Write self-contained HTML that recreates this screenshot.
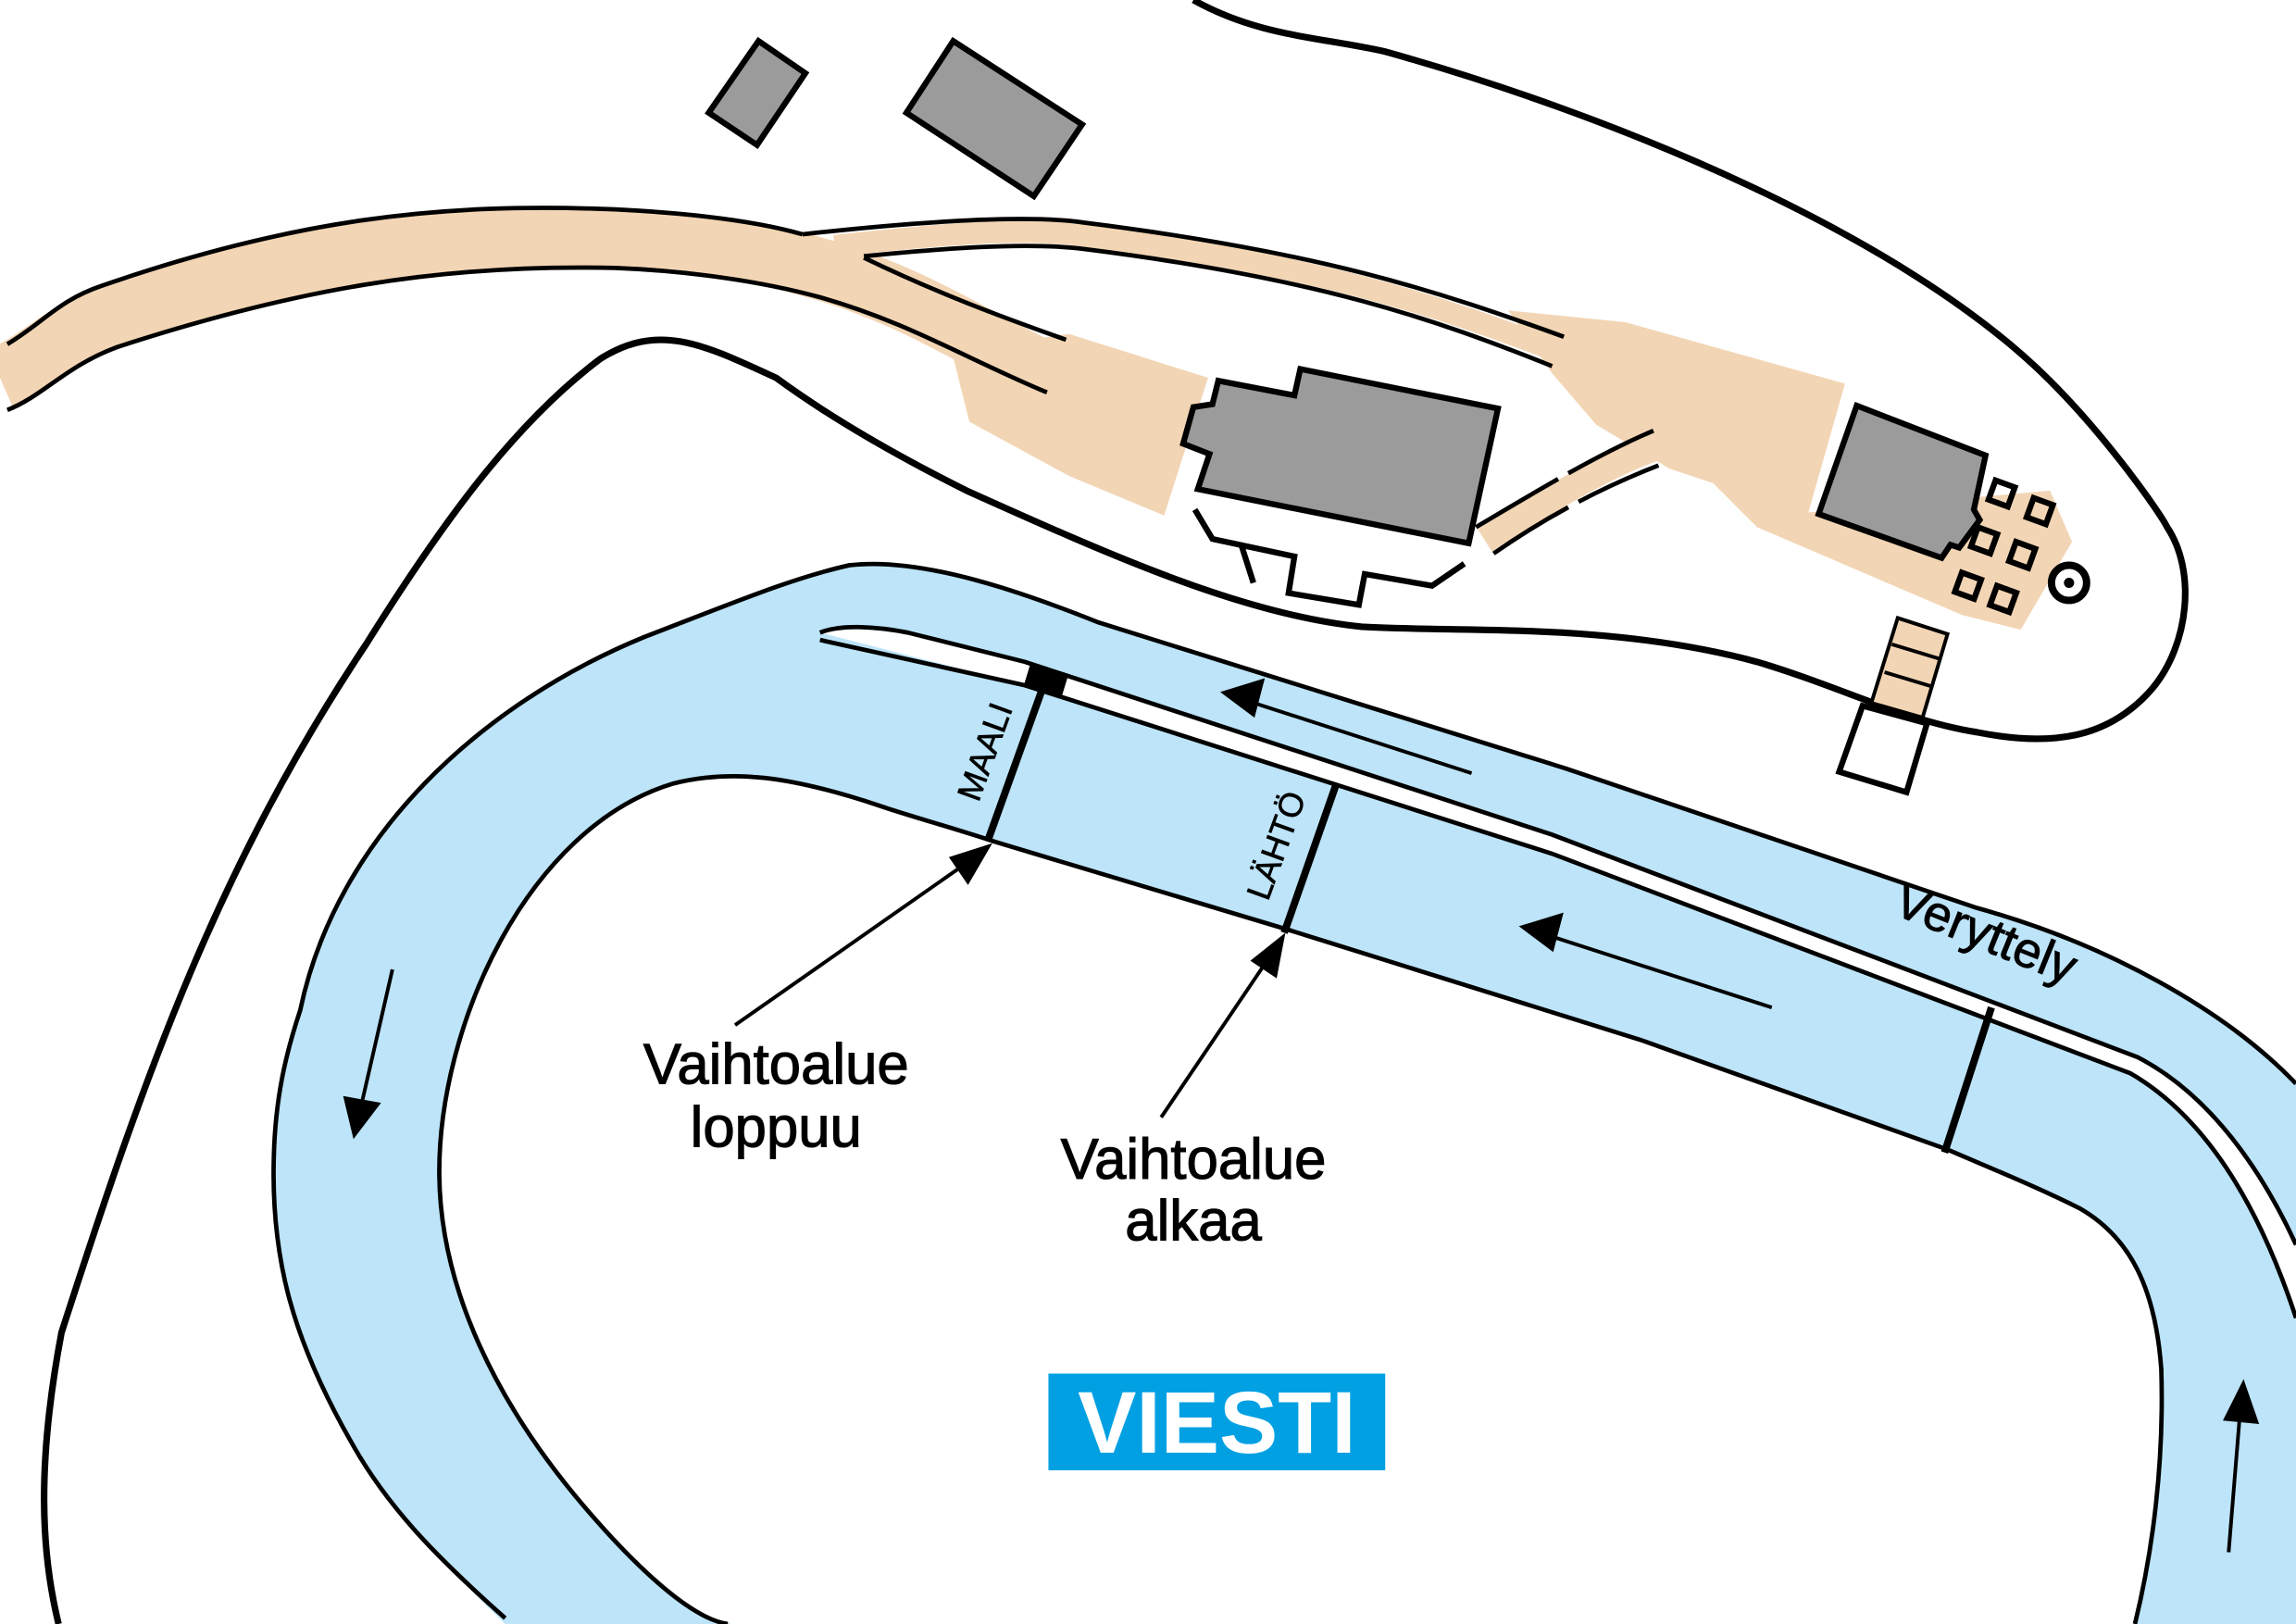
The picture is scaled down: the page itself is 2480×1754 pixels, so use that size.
<!DOCTYPE html>
<html><head><meta charset="utf-8"><style>
html,body{margin:0;padding:0;background:#fff}
svg{display:block}
text{font-family:"Liberation Sans",sans-serif}
</style></head><body>
<svg width="2480" height="1754" viewBox="0 0 1568 1109" preserveAspectRatio="none" xmlns="http://www.w3.org/2000/svg">
<rect width="1568" height="1109" fill="#fff"/>
<!-- roads -->
<path d="M0,258 C30,245 40,228 75,216 C200,174 300,160 420,163 C480,166 520,172 554,182 C620,200 660,228 715,255" fill="none" stroke="#f2d5b4" stroke-width="42"/>
<path d="M570,168 C640,160 700,155 740,161 C900,181 980,208 1064,240" fill="none" stroke="#f2d5b4" stroke-width="15"/>
<path d="M1014,369 C1060,340 1100,315 1136,304" fill="none" stroke="#f2d5b4" stroke-width="18"/>
<polygon points="650,240 730,228 825,258 795,352 730,325 662,288" fill="#f2d5b4"/>
<polygon points="1030,212 1110,220 1260,262 1235,350 1400,335 1415,370 1380,430 1340,420 1200,360 1170,330 1140,320 1090,290 1060,255" fill="#f2d5b4"/>
<g fill="none" stroke="#000" stroke-width="3">
<path d="M5,235 C30,220 40,205 70,195 C200,150 300,138 420,143 C480,146 520,152 548,160"/>
<path d="M5,280 C30,270 45,250 80,237 C200,198 300,180 420,183 C470,185 520,192 560,203 C620,220 660,245 715,268"/>
<path d="M548,160 C620,152 700,146 740,152 C900,172 980,198 1068,230"/>
<path d="M590,175 C640,170 700,165 740,170 C900,190 980,218 1060,250"/>
<path d="M590,176 C640,200 680,215 728,232"/>
<path d="M1008,360 C1050,335 1095,308 1132,293" stroke-dasharray="65,8"/>
<path d="M1020,378 C1060,350 1100,330 1140,315" stroke-dasharray="60,8"/>
</g>
<!-- outer boundary -->
<path d="M815,0 C860,25 900,25 945,35 C1100,78 1300,160 1400,260 C1440,300 1475,350 1480,360 C1500,390 1495,440 1470,470 C1440,505 1400,510 1350,500 C1300,492 1260,470 1200,452 C1100,425 1000,432 930,428 C850,420 760,380 660,335 C600,305 560,280 530,258 C480,235 450,220 410,245 C350,290 300,360 250,440 C150,590 100,730 42,910 C25,1000 28,1060 40,1109" fill="none" stroke="#000" stroke-width="4.5"/>
<!-- track -->
<path d="M345,1109 C300,1065 265,1030 240,985 C200,915 185,860 187,790 C188,750 195,720 205,690 C230,570 330,480 440,435 C500,412 540,395 580,386 C630,380 700,405 750,425 L1070,525 L1350,620 C1440,645 1520,690 1568,740 L1568,1109 L1458,1109 C1470,1060 1478,1000 1476,935 C1472,880 1455,845 1420,825 C1390,810 1360,798 1330,785 L1120,710 L880,635 L680,575 C650,565 620,557 600,550 C540,530 500,525 460,535 C360,565 300,700 300,800 C300,880 340,960 400,1030 C430,1065 470,1105 500,1109 Z" fill="#bde4f8"/>
<path d="M345,1105 C300,1065 265,1030 240,985 C200,915 185,860 187,790 C188,750 195,720 205,690 C230,570 330,480 440,435 C500,412 540,395 580,386 C630,380 700,405 750,425 L1070,525 L1350,620 C1440,645 1520,690 1568,740" fill="none" stroke="#000" stroke-width="3"/>
<path d="M1458,1109 C1470,1060 1478,1000 1476,935 C1472,880 1455,845 1420,825 C1390,810 1360,798 1330,785 L1120,710 L880,635 L680,575 C650,565 620,557 600,550 C540,530 500,525 460,535 C360,565 300,700 300,800 C300,880 340,960 400,1030 C430,1065 470,1105 497,1109" fill="none" stroke="#000" stroke-width="3"/>
<!-- warmup lane -->
<path d="M560,432 C575,426 600,428 620,432 L700,452 L1060,570 L1460,722 C1510,748 1545,800 1568,850 L1568,900 C1545,830 1510,765 1455,733 L1060,583 L700,468 Z" fill="#fff" stroke="none"/>
<path d="M560,432 C575,426 600,428 620,432 L700,452 L1060,570 L1460,722 C1510,748 1545,800 1568,850" fill="none" stroke="#000" stroke-width="3"/>
<path d="M560,437 L700,468 L1060,583 L1455,733 C1510,765 1545,830 1568,900" fill="none" stroke="#000" stroke-width="3"/>
<rect x="701" y="456" width="27" height="16" fill="#000" transform="rotate(17 714 464)"/>
<g stroke="#000" stroke-width="5">
<line x1="712" y1="470" x2="675" y2="573"/>
<line x1="912" y1="537" x2="877" y2="637"/>
<line x1="1360" y1="688" x2="1328" y2="787"/>
</g>
<!-- arrows -->
<g stroke="#000" stroke-width="2.5" fill="#000">
<line x1="1005" y1="528" x2="850" y2="478"/><polygon points="836,473 862,465 856,488"/>
<line x1="1210" y1="688" x2="1055" y2="638"/><polygon points="1040,633 1066,625 1060,648"/>
<line x1="268" y1="662" x2="246" y2="758"/><polygon points="242,775 236,750 258,754"/>
<line x1="1522" y1="1060" x2="1530" y2="962"/><polygon points="1532,945 1541,971 1520,969"/>
<line x1="502" y1="700" x2="662" y2="588"/><polygon points="675,578 661,602 650,586"/>
<line x1="793" y1="763" x2="866" y2="655"/><polygon points="876,640 871,666 856,656"/>
</g>
<!-- buildings -->
<g fill="#9b9b9b" stroke="#000" stroke-width="4">
<polygon points="518,28 550,50 517,99 484,77"/>
<polygon points="651,28 739,85 706,134 619,77"/>
<polygon points="832,260 884,270 888,252 1023,279 1003,371 818,334 826,310 808,303 815,278 828,276"/>
<polygon points="1268,277 1356,311 1348,348 1352,355 1338,374 1332,372 1326,381 1242,351"/>
</g>
<path d="M816,348 L828,368 L884,380 L880,405 L928,413 L932,392 L978,400 L1000,385" fill="none" stroke="#000" stroke-width="4"/>
<line x1="848" y1="373" x2="856" y2="398" stroke="#000" stroke-width="4"/>
<g fill="none" stroke="#000" stroke-width="4">
<rect x="1360" y="330" width="14" height="14" transform="rotate(20 1367 337)"/>
<rect x="1386" y="342" width="14" height="14" transform="rotate(20 1393 349)"/>
<rect x="1348" y="362" width="14" height="14" transform="rotate(20 1355 369)"/>
<rect x="1374" y="372" width="14" height="14" transform="rotate(20 1381 379)"/>
<rect x="1337" y="393" width="14" height="14" transform="rotate(20 1344 400)"/>
<rect x="1361" y="402" width="14" height="14" transform="rotate(20 1368 409)"/>
</g>
<circle cx="1413" cy="398" r="12" fill="#fff" stroke="#000" stroke-width="5"/>
<circle cx="1413" cy="398" r="3.5" fill="#000"/>
<!-- pier -->
<polygon points="1296,422 1330,433 1313,490 1278,480" fill="#f2d5b4" stroke="#000" stroke-width="2.5"/>
<line x1="1292" y1="440" x2="1325" y2="450" stroke="#000" stroke-width="2.5"/>
<line x1="1287" y1="459" x2="1320" y2="469" stroke="#000" stroke-width="2.5"/>
<polygon points="1272,482 1316,494 1302,541 1256,527" fill="#fff" stroke="#000" stroke-width="4"/>
<!-- labels -->
<g font-size="39" text-anchor="middle" fill="#000" stroke="#000" stroke-width="0.7">
<text x="530" y="740">Vaihtoalue</text>
<text x="530" y="783">loppuu</text>
<text x="815" y="805">Vaihtoalue</text>
<text x="815" y="847">alkaa</text>
</g>
<text x="1352" y="648" font-size="34" text-anchor="middle" stroke="#000" stroke-width="0.6" transform="rotate(22 1352 648)">Veryttely</text>
<text x="680" y="516" font-size="23" text-anchor="middle" stroke="#000" stroke-width="0.4" transform="rotate(-70 680 516)">MAALI</text>
<text x="879" y="580" font-size="23" text-anchor="middle" stroke="#000" stroke-width="0.4" transform="rotate(-70 879 580)">LÄHTÖ</text>
<rect x="716" y="938" width="230" height="66" fill="#00a0e3"/>
<text x="831" y="992" font-size="60" font-weight="bold" fill="#fff" text-anchor="middle">VIESTI</text>
</svg>
</body></html>
